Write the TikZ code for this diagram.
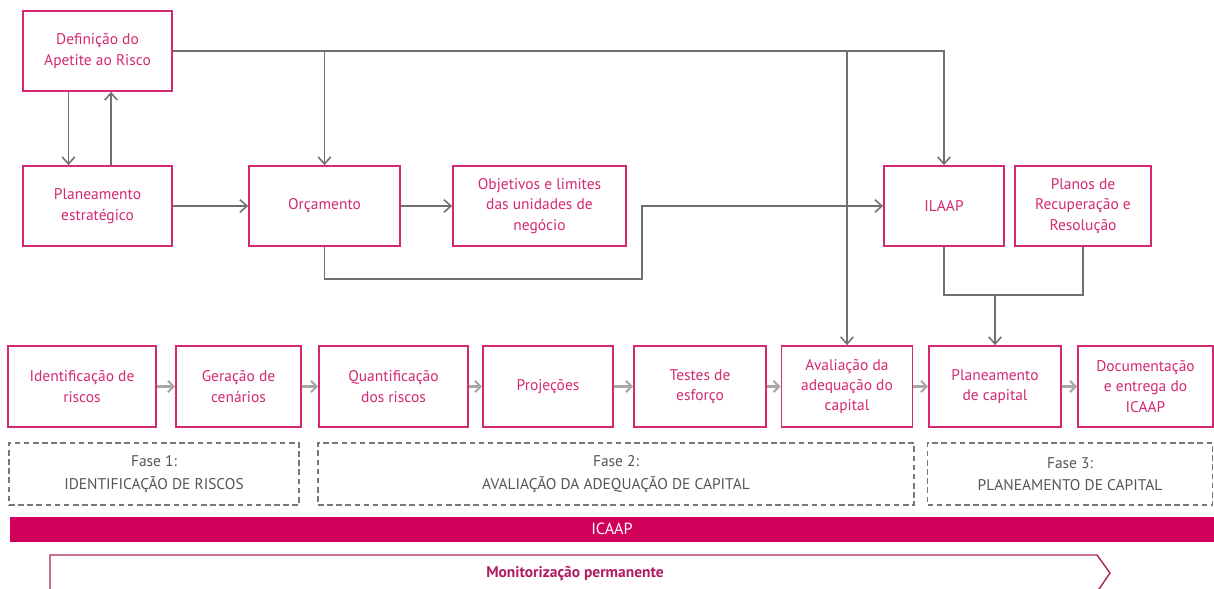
\documentclass[tikz,border=0pt]{standalone}
\usepackage{fontspec}
\setmainfont{PT Sans}
\usetikzlibrary{arrows.meta}
\definecolor{mag}{HTML}{D42A74}
\definecolor{magbar}{HTML}{D0005B}
\definecolor{magdark}{HTML}{B01A63}
\definecolor{lin}{HTML}{707070}
\definecolor{lgray}{HTML}{A8A8A8}
\definecolor{dgray}{HTML}{555555}
\begin{document}
\begin{tikzpicture}[x=0.025cm,y=-0.025cm,
  box/.style={draw=mag, line width=1.3pt, text=mag, align=center, inner sep=0pt,
    font=\fontsize{11}{14.5}\selectfont, fill=white},
  bw/.style={minimum width=#1*0.025cm},
  bh/.style={minimum height=#1*0.025cm},
  fase/.style={draw=dgray!80, dashed, dash pattern=on 4pt off 2.5pt, line width=1pt,
    text=dgray, align=center, inner sep=0pt, minimum height=62*0.025cm,
    font=\fontsize{11}{16}\selectfont},
  conn/.style={draw=lin, line width=1.2pt},
  arr/.style={conn, -{Straight Barb[length=5pt,width=9pt,line width=1.1pt]}},
  garr/.style={draw=lgray, line width=2pt, -{Straight Barb[length=4pt,width=8pt,line width=1.5pt]}},
]
\useasboundingbox (0,0) rectangle (1214,589);

% top nodes
\node[box,bw=149,bh=80] (def) at (97.5,51) {Definição do\\Apetite ao Risco};
\node[box,bw=149,bh=80] (plan) at (97.5,206) {Planeamento\\estratégico};
\node[box,bw=151,bh=80] (orc) at (324.5,206) {Orçamento};
\node[box,bw=173,bh=80] (obj) at (539.5,206) {Objetivos e limites\\das unidades de\\negócio};
\node[box,bw=120,bh=80] (ilaap) at (944,206) {ILAAP};
\node[box,bw=136,bh=80] (planos) at (1083,206) {Planos de\\Recuperação e\\Resolução};

% bottom row
\node[box,bw=148,bh=81] (r1) at (82,386.5) {Identificação de\\riscos};
\node[box,bw=125,bh=81] (r2) at (238.5,386.5) {Geração de\\cenários};
\node[box,bw=149,bh=81] (r3) at (393.5,386.5) {Quantificação\\dos riscos};
\node[box,bw=130,bh=81] (r4) at (548,386.5) {Projeções};
\node[box,bw=132,bh=81] (r5) at (700,386.5) {Testes de\\esforço};
\node[box,bw=131,bh=81] (r6) at (847,386.5) {Avaliação da\\adequação do\\capital};
\node[box,bw=132,bh=81] (r7) at (995,386.5) {Planeamento\\de capital};
\node[box,bw=135,bh=81] (r8) at (1145.5,386.5) {Documentação\\e entrega do\\ICAAP};

% phases
\node[fase,bw=290] (f1) at (154,474) {Fase 1:\\IDENTIFICAÇÃO DE RISCOS};
\node[fase,bw=596] (f2) at (616,474) {Fase 2:\\AVALIAÇÃO DA ADEQUAÇÃO DE CAPITAL};
\node[fase,bw=285] (f3) at (1070,474) {Fase 3:\\PLANEAMENTO DE CAPITAL};

% ICAAP bar
\node[fill=magbar, draw=magbar, text=white, inner sep=0pt, bw=1204, bh=24,
  font=\fontsize{11.5}{13}\selectfont] (bar) at (612,529) {ICAAP};

% monitoring arrow
\draw[draw=mag!80!black, line width=1pt] (50,592) -- (50,555) -- (1097,555) -- (1110,573) -- (1097,592);
\node[text=magdark, font=\fontsize{11}{13}\selectfont\bfseries] (mon) at (575,574) {Monitorização permanente};

% connectors top
\draw[arr] ([xshift=-29*0.025cm]def.south) -- ([xshift=-29*0.025cm]plan.north);
\draw[arr] ([xshift=13.5*0.025cm]plan.north) -- ([xshift=13.5*0.025cm]def.south);
\draw[arr] (plan) -- (orc);
\draw[arr] (orc) -- (obj);
\coordinate (j1) at (orc.north |- def.east);
\coordinate (j2) at (r6.north |- def.east);
\draw[arr] (def.east) -| (ilaap.north);
\draw[arr] (j1) -- (orc.north);
\draw[arr] (j2) -- (r6.north);
\coordinate (k1) at (642,279);
\draw[arr] (orc.south) |- (k1) |- (ilaap.west);
\coordinate (k2) at (r7.north |- 0,295);
\draw[conn] (ilaap.south) |- (k2) -| (planos.south);
\draw[arr] (k2) -- (r7.north);

% bottom chevrons
\draw[garr] (r1) -- (r2);
\draw[garr] (r2) -- (r3);
\draw[garr] (r3) -- (r4);
\draw[garr] (r4) -- (r5);
\draw[garr] (r5) -- (r6);
\draw[garr] (r6) -- (r7);
\draw[garr] (r7) -- (r8);
\end{tikzpicture}
\end{document}
